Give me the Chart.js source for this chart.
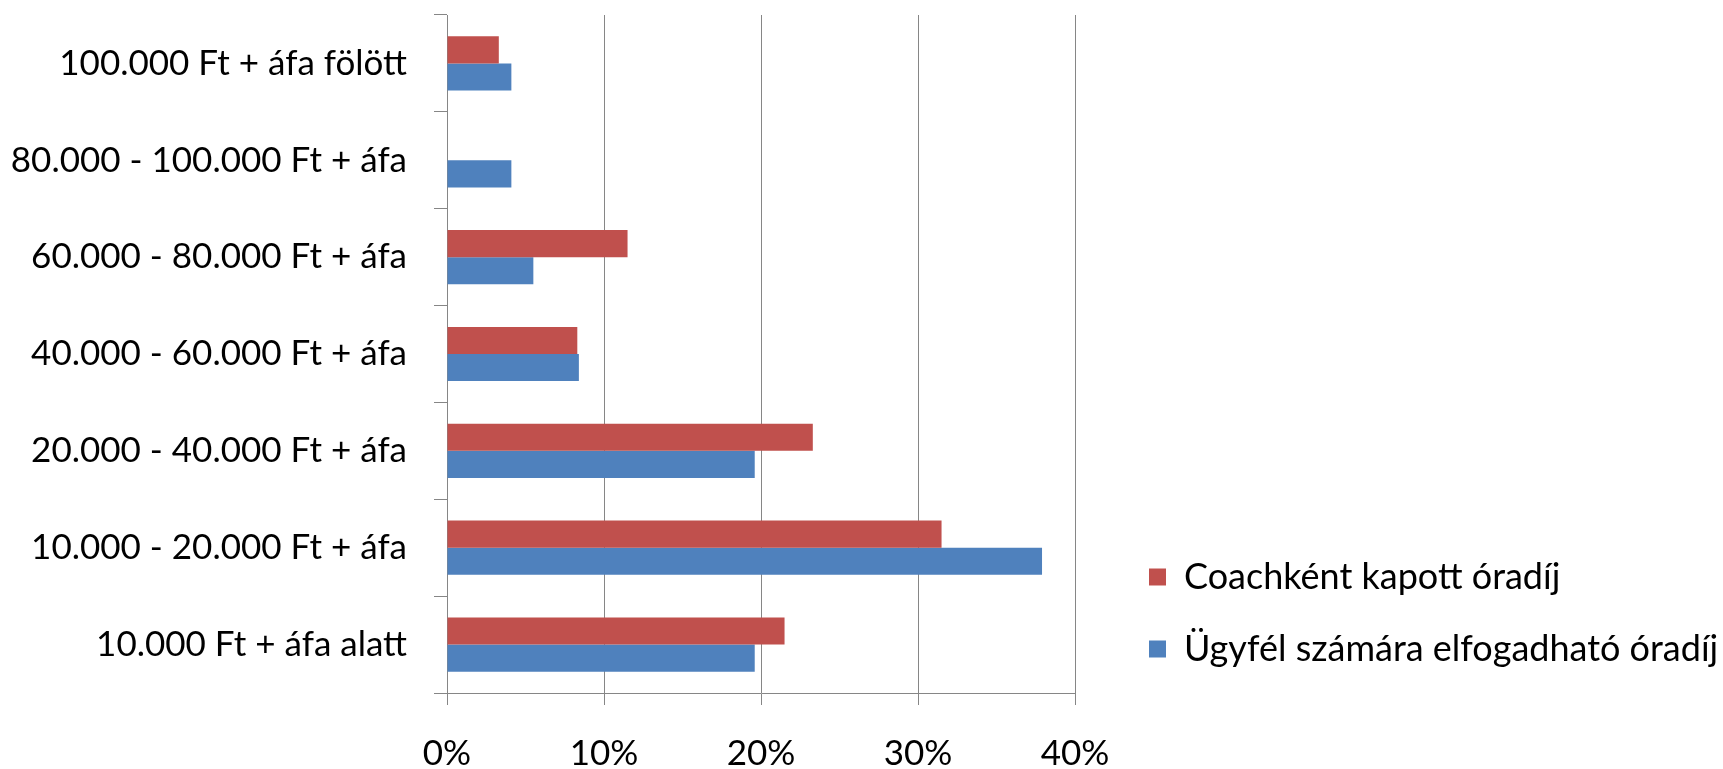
<!DOCTYPE html>
<html lang="hu">
<head>
  <meta charset="UTF-8">
  <title>Óradíjak</title>

  <!-- Chart.js for graph -->
  <script src="https://cdn.jsdelivr.net/npm/chart.js"></script>

  <style>
    html, body { margin: 0; padding: 0; background: #fff; }
    #wrap { width: 1723px; height: 769px; }
  </style>
</head>

<body>
  <div id="wrap">
    <canvas id="myChart"></canvas>
  </div>

  <script>
    // Categories, listed from the top of the chart to the bottom
    const categories = [
      '100.000 Ft + áfa fölött',
      '80.000 - 100.000 Ft + áfa',
      '60.000 - 80.000 Ft + áfa',
      '40.000 - 60.000 Ft + áfa',
      '20.000 - 40.000 Ft + áfa',
      '10.000 - 20.000 Ft + áfa',
      '10.000 Ft + áfa alatt'
    ];

    const seriesNames = ['Coachként kapott óradíj', 'Ügyfél számára elfogadható óradíj'];

    // values in percent
    const coachRate  = [3.3, 0, 11.5, 8.3, 23.3, 31.5, 21.5];
    const clientRate = [4.1, 4.1, 5.5, 8.4, 19.6, 37.9, 19.6];

    // x axis ticks (percent)
    const xTicks = [0, 10, 20, 30, 40];

    const FONT_SIZE = 35;
    const LEGEND_FONT = 36;
    const GRID = '#868686';

    Chart.defaults.font.family = 'Lato, "Open Sans", sans-serif';
    Chart.defaults.font.size = FONT_SIZE;
    Chart.defaults.color = '#000';

    // legend sits to the right, lower down, with a wider gap from the plot
    const legendPlace = {
      id: 'legendPlace',
      beforeInit(chart) {
        const fit = chart.legend.fit;
        chart.legend.fit = function () {
          fit.call(this);
          this.width = chart.width - 1075;
        };
      },
      afterLayout(chart) {
        chart.legend.left += 38;
        chart.legend.bottom += 10;
      }
    };

    const ctx = document.getElementById('myChart').getContext('2d');

    window.myChart = new Chart(ctx, {
      type: 'bar',
      data: {
        labels: categories,
        datasets: [
          {
            label: seriesNames[0],
            data: coachRate,
            backgroundColor: '#C0504D',
            categoryPercentage: 0.56,
            barPercentage: 1.0
          },
          {
            label: seriesNames[1],
            data: clientRate,
            backgroundColor: '#4F81BD',
            categoryPercentage: 0.56,
            barPercentage: 1.0
          }
        ]
      },
      options: {
        indexAxis: 'y',
        responsive: true,
        maintainAspectRatio: false,
        animation: false,
        devicePixelRatio: 1,
        layout: {
          padding: { top: 15, right: 0, bottom: 0, left: 0 }
        },
        plugins: {
          legend: {
            position: 'right',
            align: 'end',
            fullSize: false,
            labels: {
              boxWidth: 17,
              boxHeight: 17,
              padding: 36,
              font: { size: LEGEND_FONT }
            }
          },
          tooltip: { enabled: false }
        },
        scales: {
          x: {
            min: xTicks[0],
            max: xTicks[xTicks.length - 1],
            ticks: {
              stepSize: xTicks[1] - xTicks[0],
              padding: 28,
              callback: v => v + '%'
            },
            grid: {
              color: GRID,
              lineWidth: 1,
              tickLength: 12
            },
            border: { color: GRID, width: 1 },
            afterFit(scale) {
              scale.height = 76;
            }
          },
          y: {
            ticks: {
              padding: 27
            },
            grid: {
              color: GRID,
              lineWidth: 1,
              drawOnChartArea: false,
              tickLength: 13
            },
            border: { color: GRID, width: 1 },
            afterFit(scale) {
              scale.width = 447;
              scale.paddingTop = 0;
              scale.paddingBottom = 0;
            }
          }
        }
      },
      plugins: [legendPlace]
    });
  </script>

</body>
</html>
